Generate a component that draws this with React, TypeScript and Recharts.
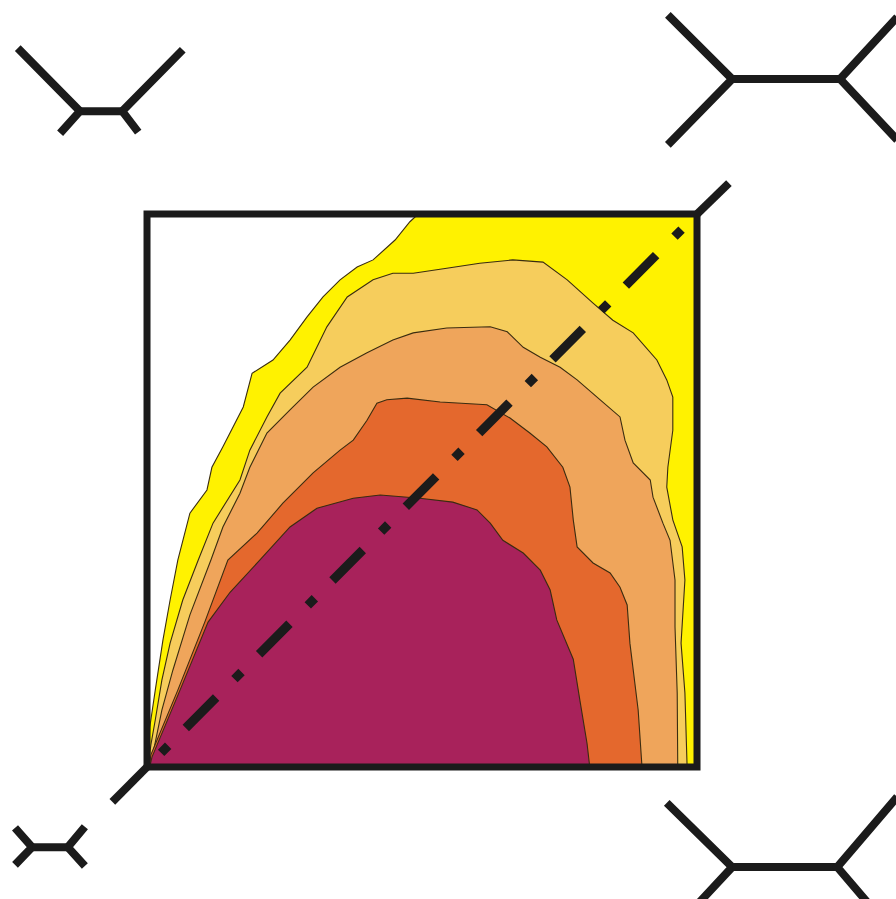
import { ComposedChart, Area, Line, XAxis, YAxis } from "recharts"

// all positions are in units of the square frame: (0,0) bottom-left, (100,100) top-right

// contour edges, outer to inner: [x, y]
const yellowEdge = [
  [0.2, 0], [0.5, 7.2], [1.5, 13.9], [2.9, 23.0], [4.2, 30.2], [5.6, 37.4], [7.8, 45.9],
  [10.9, 50.1], [11.8, 54.2], [13.8, 57.9], [17.5, 65.1], [19.1, 71.2], [22.9, 73.6],
  [26.0, 77.2], [29.1, 81.4], [32.0, 85.0], [35.1, 88.1], [38.2, 90.4], [41.1, 91.7],
  [45.1, 95.3], [47.8, 98.6], [49.3, 100], [100, 100], [100, 0],
]
const paleEdge = [
  [0.2, 0], [0.7, 4.0], [1.5, 8.5], [2.7, 15.7], [4.2, 22.4], [6.5, 30.2], [9.3, 37.4],
  [12.0, 44.1], [16.9, 51.9], [18.7, 57.3], [21.8, 63.3], [24.2, 67.6], [29.1, 72.3],
  [32.7, 79.6], [36.4, 85.0], [41.1, 88.1], [44.7, 89.3], [48.4, 89.3], [54.5, 90.2],
  [60.5, 91.1], [66.5, 91.7], [72.0, 91.3], [76.4, 88.1], [81.1, 83.9], [84.7, 80.8],
  [88.4, 78.5], [92.7, 73.6], [94.5, 70.0], [95.6, 66.9], [95.6, 60.9], [94.7, 54.2],
  [94.5, 50.6], [95.6, 44.7], [97.3, 39.8], [97.8, 33.8], [97.1, 22.4], [97.8, 13.4], [98.2, 0],
]
const lightOrangeEdge = [
  [0.2, 0], [1.1, 2.5], [2.7, 10.3], [4.7, 17.5], [7.8, 27.5], [11.6, 37.4], [13.8, 43.4],
  [16.9, 49.5], [18.7, 54.2], [21.8, 60.4], [26.0, 64.6], [30.2, 68.7], [35.1, 72.3],
  [40.0, 74.9], [44.7, 77.2], [48.4, 78.5], [54.5, 79.4], [62.4, 79.6], [65.5, 78.7],
  [68.4, 75.9], [71.5, 74.1], [75.1, 72.3], [78.2, 70.0], [82.4, 66.4], [86.0, 63.3],
  [86.9, 59.1], [88.4, 55.0], [91.5, 51.9], [92.0, 48.8], [93.8, 44.1], [95.1, 41.0],
  [96.0, 33.8], [96.0, 25.3], [96.4, 13.4], [96.5, 0],
]
const orangeEdge = [
  [0.4, 0], [0.7, 2.2], [5.6, 13.9], [10.5, 26.2], [14.7, 37.4], [20.0, 42.3], [24.7, 47.7],
  [30.2, 53.2], [35.1, 57.3], [37.5, 59.1], [40.0, 62.7], [41.8, 65.8], [43.6, 66.4],
  [47.3, 66.7], [53.3, 66.0], [61.8, 65.5], [66.0, 63.1], [69.6, 60.4], [72.7, 57.9],
  [75.6, 54.2], [76.9, 50.6], [77.5, 44.7], [78.2, 39.8], [81.1, 36.9], [84.2, 35.1],
  [86.0, 32.5], [87.3, 29.3], [87.8, 22.4], [89.3, 10.3], [90.0, 0],
]
const coreEdge = [
  [0.5, 0], [0.9, 1.8], [6.0, 13.9], [11.1, 26.2], [15.1, 31.6], [20.5, 37.4], [26.0, 43.4],
  [30.9, 46.8], [37.5, 48.6], [42.4, 49.2], [49.6, 48.6], [55.6, 47.9], [60.0, 46.5],
  [62.4, 44.1], [64.7, 41.0], [68.4, 38.7], [71.5, 35.6], [73.3, 32.0], [74.5, 26.6],
  [77.5, 19.5], [78.7, 12.1], [80.0, 4.3], [80.5, 0],
]

const frame = [[0, 0], [0, 100], [100, 100], [100, 0], [0, 0], [0, 100]]
const diagIn = [[0, 0], [100, 100]]
const diagLow = [[-6.3, -6.3], [0, 0]]
const diagHigh = [[100, 100], [105.8, 105.6]]

// corner glyphs: left chevron, bar, right chevron
const glyphTL = [
  [[-23.5, 130.0], [-12.2, 118.6], [-15.8, 114.6]],
  [[-12.2, 118.6], [-4.5, 118.6]],
  [[6.5, 129.7], [-4.5, 118.6], [-1.6, 114.8]],
]
const glyphTR = [
  [[94.7, 136.0], [106.4, 124.4], [94.7, 112.5]],
  [[106.4, 124.4], [126.0, 124.4]],
  [[136.4, 135.6], [126.0, 124.4], [136.4, 113.4]],
]
const glyphBL = [
  [[-24.0, -11.0], [-20.9, -14.5], [-24.0, -17.7]],
  [[-20.9, -14.5], [-14.4, -14.5]],
  [[-11.3, -10.8], [-14.4, -14.5], [-11.3, -17.9]],
]
const glyphBR = [
  [[94.5, -6.5], [106.4, -18.1], [100.4, -24.5]],
  [[106.4, -18.1], [125.5, -18.1]],
  [[136.4, -5.4], [125.5, -18.1], [131.0, -24.5]],
]

const contours = [
  { key: "yellow", pts: yellowEdge, fill: "#fff200" },
  { key: "pale", pts: paleEdge, fill: "#f6cd5c" },
  { key: "lightOrange", pts: lightOrangeEdge, fill: "#efa55b" },
  { key: "orange", pts: orangeEdge, fill: "#e4682d" },
  { key: "core", pts: coreEdge, fill: "#a8225b" },
]

const rows = contours.flatMap(c => c.pts.map(([x, y]) => ({ x, [c.key]: y })))
const toPts = (p: number[][]) => p.map(([x, y]) => ({ x, y }))
const glyphs = [glyphTL, glyphTR, glyphBL, glyphBR].flat()

const INK = "#1b1b1b"

export default function App() {
  return (
    <div style={{ position: "absolute", left: 0, top: 0, width: 896, height: 899, background: "#fff" }}>
      <ComposedChart width={896} height={899} data={rows} margin={{ top: 0, right: 0, bottom: 0, left: 0 }}>
        <XAxis type="number" dataKey="x" domain={[-26.73, 136.18]} hide allowDataOverflow />
        <YAxis type="number" domain={[-23.87, 138.7]} hide allowDataOverflow width={0} />
        {contours.map(c => (
          <Area key={c.key} type="linear" dataKey={c.key} baseValue={0} connectNulls
            fill={c.fill} fillOpacity={1} stroke="#3a2c10" strokeWidth={1.1}
            dot={false} activeDot={false} isAnimationActive={false} />
        ))}
        <Line data={toPts(frame)} dataKey="y" type="linear" stroke={INK} strokeWidth={7}
          dot={false} activeDot={false} isAnimationActive={false} />
        <Line data={toPts(diagIn)} dataKey="y" type="linear" stroke={INK} strokeWidth={9}
          strokeDasharray="10 25 43 26" strokeDashoffset={84}
          dot={false} activeDot={false} isAnimationActive={false} />
        {[diagLow, diagHigh].map((d, i) => (
          <Line key={"d" + i} data={toPts(d)} dataKey="y" type="linear" stroke={INK} strokeWidth={8}
            dot={false} activeDot={false} isAnimationActive={false} />
        ))}
        {glyphs.map((g, i) => (
          <Line key={"g" + i} data={toPts(g)} dataKey="y" type="linear" stroke={INK} strokeWidth={8}
            dot={false} activeDot={false} isAnimationActive={false} />
        ))}
      </ComposedChart>
    </div>
  )
}
